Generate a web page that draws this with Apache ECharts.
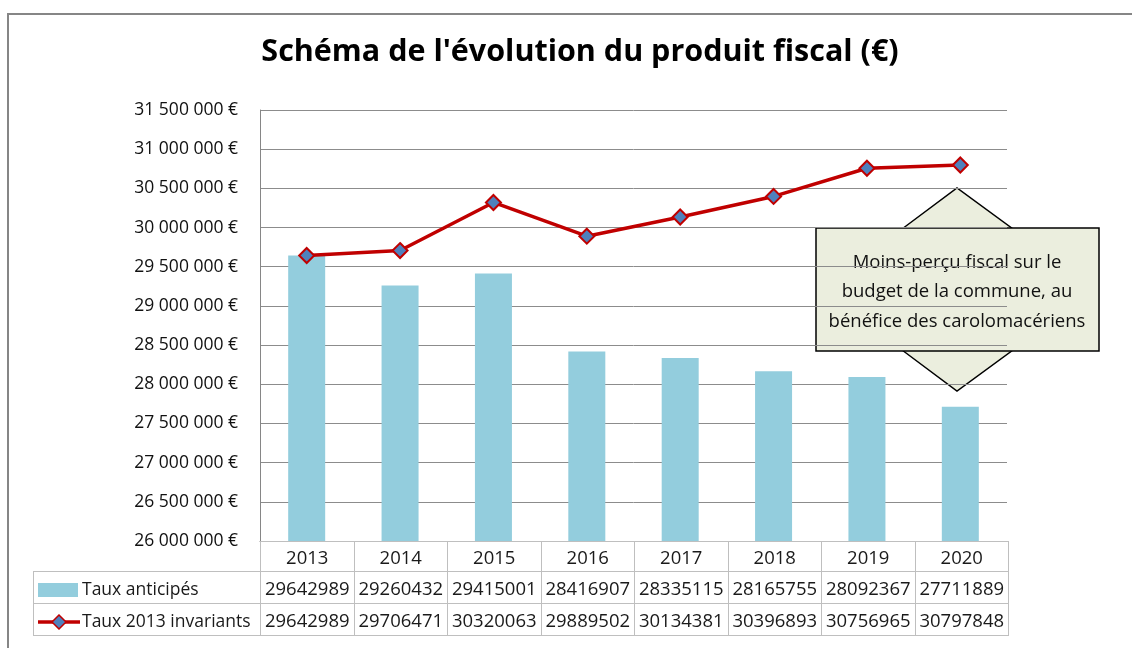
<!DOCTYPE html>
<html>
<head>
<meta charset="utf-8">
<script src="https://cdn.jsdelivr.net/npm/echarts@6/dist/echarts.min.js"></script>
<style>
  html, body { margin: 0; padding: 0; background: #fff; }
  #wrap { position: relative; width: 1132px; height: 648px; overflow: hidden; }
  #frame { position: absolute; left: 7px; top: 13px; width: 1200px; height: 700px; border: 2px solid #868686; box-sizing: border-box; }
  #chart { position: absolute; left: 0; top: 0; width: 1132px; height: 648px; }
  #tbl { position: absolute; left: 33px; top: 541px; width: 975px; table-layout: fixed; border-collapse: collapse; font-family: "Open Sans", Lato, sans-serif; font-size: 18.5px; color: #1a1a1a; }
  #tbl td { border: 1px solid #BFBFBF; height: 30px; padding: 0; text-align: center; box-sizing: border-box; overflow: hidden; white-space: nowrap; }
  #tbl td.lab { text-align: left; font-size: 17.5px; }
  #tbl td.blank { border: none; border-right: 1px solid #BFBFBF; }
  #tbl svg { vertical-align: middle; margin: 0 1px 0 3px; }
</style>
</head>
<body>
<div id="wrap">
  <div id="frame"></div>
  <div id="chart"></div>
  <table id="tbl"></table>
</div>
<script>
const years = ['2013', '2014', '2015', '2016', '2017', '2018', '2019', '2020'];
const anticipes = [29642989, 29260432, 29415001, 28416907, 28335115, 28165755, 28092367, 27711889];
const invariants = [29642989, 29706471, 30320063, 29889502, 30134381, 30396893, 30756965, 30797848];
const seriesNames = ['Taux anticipés', 'Taux 2013 invariants'];
const noteLines = ['Moins-perçu fiscal sur le', 'budget de la commune, au', 'bénéfice des carolomacériens'];

const chart = echarts.init(document.getElementById('chart'));

function euro(v) {
  return String(v).replace(/\B(?=(\d{3})+(?!\d))/g, ' ') + ' €';
}

const option = {
  animation: false,
  title: {
    text: "Schéma de l'évolution du produit fiscal (€)",
    left: 575,
    textAlign: 'center',
    top: 32,
    textStyle: { fontFamily: 'Open Sans', fontWeight: 'bold', fontSize: 30.5, color: '#000' }
  },
  grid: { left: 260, right: 125, top: 110, bottom: 107 },
  xAxis: {
    type: 'category',
    data: years,
    axisLine: { lineStyle: { color: '#868686' } },
    axisTick: { show: false },
    axisLabel: { show: false }
  },
  yAxis: {
    type: 'value',
    min: 26000000,
    max: 31500000,
    interval: 500000,
    axisLine: { show: true, lineStyle: { color: '#868686' } },
    axisTick: { show: false },
    axisLabel: {
      formatter: euro,
      fontFamily: 'Open Sans',
      fontSize: 17.5,
      color: '#111',
      margin: 22
    },
    splitLine: { lineStyle: { color: '#8C8C8C' } }
  },
  series: [
    {
      name: seriesNames[0],
      type: 'bar',
      data: anticipes,
      barWidth: 37,
      itemStyle: { color: '#93CDDD' }
    },
    {
      name: seriesNames[1],
      type: 'line',
      data: invariants,
      symbol: 'diamond',
      symbolSize: 15,
      lineStyle: { color: '#C00000', width: 3.5 },
      itemStyle: { color: '#4F81BD', borderColor: '#C00000', borderWidth: 2 },
      z: 5
    }
  ],
  graphic: [
    {
      type: 'group',
      z: 100,
      children: [
        { type: 'polygon', shape: { points: [[902, 229], [957, 188], [1013, 229]] }, style: { fill: '#EBEEDE', stroke: '#000', lineWidth: 1.5 } },
        { type: 'polygon', shape: { points: [[902, 350], [957, 391], [1013, 350]] }, style: { fill: '#EBEEDE', stroke: '#000', lineWidth: 1.5 } },
        { type: 'rect', shape: { x: 816, y: 228, width: 283, height: 123 }, style: { fill: '#EBEEDE', stroke: '#000', lineWidth: 1.5 } },
        {
          type: 'text', x: 957, y: 292,
          style: {
            text: noteLines.join('\n'),
            align: 'center', verticalAlign: 'middle',
            fontFamily: 'Open Sans', fontSize: 18.5, lineHeight: 29.5, fill: '#111'
          }
        }
      ]
    }
  ]
};
chart.setOption(option);

// data table under the plot
const tbl = document.getElementById('tbl');
const keys = [
  '<svg width="44" height="16"><rect x="1" y="1" width="40" height="14" fill="#93CDDD"/></svg>',
  '<svg width="44" height="16"><line x1="1" y1="8" x2="43" y2="8" stroke="#C00000" stroke-width="3.5"/><path d="M22 1 L29 8 L22 15 L15 8 Z" fill="#4F81BD" stroke="#C00000" stroke-width="1.5"/></svg>'
];
let html = '<colgroup><col style="width:227px">' + years.map(() => '<col style="width:93.5px">').join('') + '</colgroup>';
html += '<tr><td class="lab blank"></td>' + years.map(y => '<td>' + y + '</td>').join('') + '</tr>';
[anticipes, invariants].forEach((arr, i) => {
  html += '<tr style="height:32px"><td class="lab">' + keys[i] + seriesNames[i] + '</td>' +
    arr.map(v => '<td>' + v + '</td>').join('') + '</tr>';
});
tbl.innerHTML = html;
</script>
</body>
</html>
